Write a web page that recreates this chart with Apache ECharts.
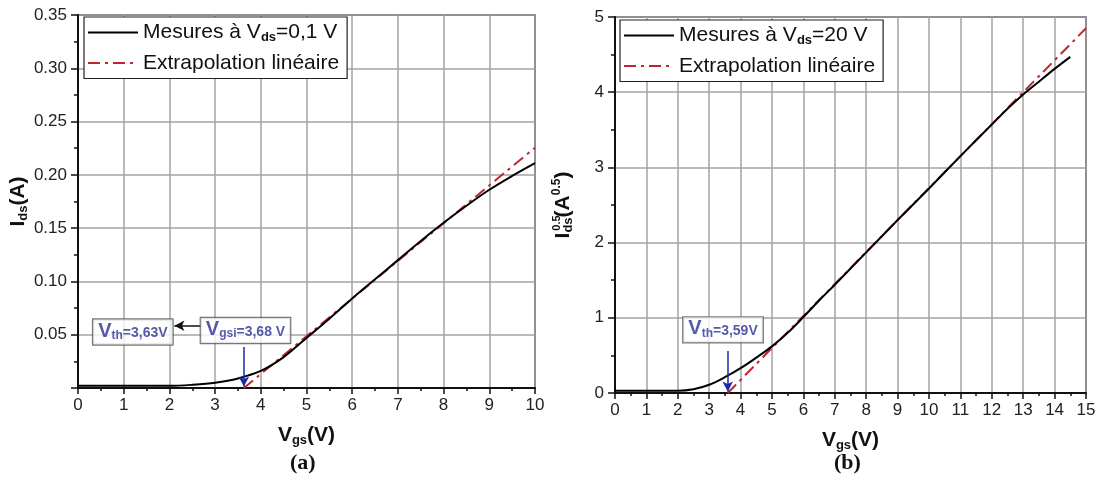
<!DOCTYPE html>
<html><head><meta charset="utf-8">
<script src="https://cdn.jsdelivr.net/npm/echarts@6/dist/echarts.min.js"></script>
<style>html,body{margin:0;padding:0;background:#fff}#c{width:1099px;height:491px}</style>
</head><body><div id="c"></div>
<script>
// ---- (a) Ids vs Vgs at Vds = 0.1 V ----
const vgsA = [0, 1, 2, 2.5, 3, 3.5, 4, 4.5, 5, 5.5, 6, 6.5, 7, 7.5, 8, 8.5, 9, 9.5, 10];
const idsA = [0.002, 0.002, 0.002, 0.003, 0.005, 0.009, 0.016, 0.029, 0.047, 0.065, 0.084, 0.102, 0.120, 0.138, 0.155, 0.171, 0.186, 0.199, 0.211];
const fitAx = [3.63, 10];
const fitAy = [0, 0.2255];
// ---- (b) sqrt(Ids) vs Vgs at Vds = 20 V ----
const vgsB = [0, 1, 2, 2.5, 3, 3.5, 4, 4.5, 5, 5.5, 6, 6.5, 7, 8, 9, 10, 11, 12, 12.5, 13, 13.5, 14, 14.5];
const sqrtIdsB = [0.03, 0.03, 0.03, 0.05, 0.11, 0.21, 0.33, 0.47, 0.62, 0.80, 1.01, 1.23, 1.44, 1.87, 2.30, 2.72, 3.15, 3.57, 3.78, 3.97, 4.14, 4.31, 4.47];
const fitBx = [3.59, 15];
const fitBy = [0, 4.85];
// annotations (data coordinates)
const vthA = 3.63, vgsiA = 3.68, vthB = 3.59;
const boxA1 = [1.2, 0.0525], boxA2 = [3.665, 0.054], boxB = [3.44, 0.84];

const zip = (a, b) => a.map((v, i) => [v, b[i]]);
const BLUE = '#2b3192', RED = '#c0262d';
const NARROW = "'Liberation Sans Narrow','Liberation Sans',Arial,sans-serif";
const SANS = "'Liberation Sans',Arial,sans-serif";
const names = {
  mesA: 'Mesures à V{s|ds}=0,1 V',
  mesB: 'Mesures à V{s|ds}=20 V',
  fitA: 'Extrapolation linéaire',
  fitB: 'Extrapolation linéaire'
};
const legendRich = { s: { fontSize: 13, fontWeight: 'bold', fontFamily: SANS, color: '#111', padding: [9, 0, 0, 0] } };
const boxRich = {
  v: { fontSize: 20, fontWeight: 'bold', color: BLUE, fontFamily: NARROW },
  s: { fontSize: 12, fontWeight: 'bold', color: BLUE, fontFamily: NARROW, padding: [9, 0, 0, 0] },
  t: { fontSize: 14, fontWeight: 'bold', color: BLUE, fontFamily: NARROW, padding: [5, 0, 0, 0] }
};
const axisNameRich = {
  i: { fontSize: 21, fontWeight: 'bold', color: '#111', fontFamily: SANS },
  s: { fontSize: 13, fontWeight: 'bold', color: '#111', fontFamily: SANS, padding: [10, 0, 0, 0] },
  p: { fontSize: 12, fontWeight: 'bold', color: '#111', fontFamily: SANS, padding: [0, 0, 12, 0] }
};
function xAx(gi, max) {
  return {
    type: 'value', gridIndex: gi, min: 0, max: max, interval: 1,
    axisLine: { lineStyle: { color: '#111', width: 2 } },
    axisTick: { length: 6, lineStyle: { color: '#111', width: 1.5 } },
    minorTick: { show: true, splitNumber: 2, length: 3, lineStyle: { color: '#111', width: 1.5 } },
    splitLine: { show: true, lineStyle: { color: '#a3a3a3', width: 1.5 } },
    axisLabel: { fontSize: 17, color: '#222', fontFamily: SANS, margin: 9 },
    name: '{i|V}{s|gs}{i|(V)}', nameLocation: 'middle', nameGap: 36,
    nameTextStyle: { rich: axisNameRich }
  };
}
function yAx(gi, max, iv, fmt, name, gap) {
  return {
    type: 'value', gridIndex: gi, min: 0, max: max, interval: iv,
    axisLine: { lineStyle: { color: '#111', width: 2 } },
    axisTick: { length: 7, lineStyle: { color: '#111', width: 1.5 } },
    minorTick: { show: true, splitNumber: 2, length: 4, lineStyle: { color: '#111', width: 1.5 } },
    splitLine: { show: true, lineStyle: { color: '#a3a3a3', width: 1.5 } },
    axisLabel: { fontSize: 17, color: '#222', fontFamily: SANS, margin: 11, formatter: fmt },
    name: name, nameLocation: 'middle', nameRotate: 90, nameGap: gap,
    nameTextStyle: { rich: axisNameRich }
  };
}
function lineSeries(name, xi, data, color, type) {
  return {
    name: name, type: 'line', xAxisIndex: xi, yAxisIndex: xi, data: data,
    showSymbol: false, symbol: 'none', smooth: 0.35, silent: true, z: type ? 3 : 4,
    lineStyle: { color: color, width: 2, type: type || 'solid' }, itemStyle: { color: color }
  };
}
function boxLabel(text) {
  return {
    show: true, position: 'inside', formatter: text, rich: boxRich,
    backgroundColor: '#fff', borderColor: '#555', borderWidth: 1.2, padding: [1, 5, 3, 5]
  };
}
const arrow = (p1, p2, color) => [{ coord: p1, lineStyle: { color: color } }, { coord: p2 }];
function legendCfg(data, left, top) {
  return {
    data: data, left: left, top: top, orient: 'vertical', itemWidth: 50, itemHeight: 14, itemGap: 9,
    padding: [5, 8, 5, 3], borderColor: '#222', borderWidth: 1.2, backgroundColor: '#fff',
    itemStyle: { opacity: 0, borderWidth: 0 },
    formatter: n => names[n], textStyle: { fontSize: 21, color: '#111', fontFamily: SANS, rich: legendRich },
    selectedMode: false
  };
}

const chart = echarts.init(document.getElementById('c'), null, { renderer: 'canvas' });
chart.setOption({
  animation: false,
  backgroundColor: '#fff',
  grid: [
    { left: 78, top: 15, width: 457, height: 373, show: true, borderColor: '#222', borderWidth: 1.5, backgroundColor: 'transparent' },
    { left: 615, top: 17, width: 471, height: 376, show: true, borderColor: '#222', borderWidth: 1.5, backgroundColor: 'transparent' }
  ],
  xAxis: [xAx(0, 10), xAx(1, 15)],
  yAxis: [
    yAx(0, 0.35, 0.05, v => v === 0 ? '' : v.toFixed(2), '{i|I}{s|ds}{i|(A)}', 46),
    yAx(1, 5, 1, v => String(v), '{i|I}{s|ds}{i|(A}{p|0.5}{i|)}', 40)
  ],
  legend: [legendCfg(['mesA', 'fitA'], 84, 17), legendCfg(['mesB', 'fitB'], 620, 20)],
  series: [
    lineSeries('fitA', 0, zip(fitAx, fitAy), RED, [12, 5, 3, 5]),
    lineSeries('mesA', 0, zip(vgsA, idsA), '#000'),
    lineSeries('fitB', 1, zip(fitBx, fitBy), RED, [12, 5, 3, 5]),
    lineSeries('mesB', 1, zip(vgsB, sqrtIdsB), '#000'),
    {
      name: 'annA', type: 'scatter', xAxisIndex: 0, yAxisIndex: 0, symbolSize: 0, silent: true, z: 10,
      data: [
        { value: boxA1, label: boxLabel('{v|V}{s|th}{t|=' + String(vthA).replace('.', ',') + 'V}') },
        { value: boxA2, label: boxLabel('{v|V}{s|gsi}{t|=' + String(vgsiA).replace('.', ',') + ' V}') }
      ],
      markLine: {
        silent: true, symbol: ['none', 'arrow'], symbolSize: [8, 10], label: { show: false },
        lineStyle: { width: 1.5, type: 'solid' },
        data: [
          arrow([2.69, 0.0584], [2.11, 0.0584], '#111'),
          arrow([vthA, 0.0385], [vthA, 0.0015], '#1a2aa8')
        ]
      }
    },
    {
      name: 'annB', type: 'scatter', xAxisIndex: 1, yAxisIndex: 1, symbolSize: 0, silent: true, z: 10,
      data: [
        { value: boxB, label: boxLabel('{v|V}{s|th}{t|=' + String(vthB).replace('.', ',') + 'V}') }
      ],
      markLine: {
        silent: true, symbol: ['none', 'arrow'], symbolSize: [8, 10], label: { show: false },
        lineStyle: { width: 1.5, type: 'solid' },
        data: [arrow([vthB, 0.56], [vthB, 0.02], '#1a2aa8')]
      }
    }
  ],
  graphic: [
    { type: 'text', left: 306 - 16, top: 452, style: { text: '(a)', font: "bold 22px 'Liberation Serif', serif", fill: '#111' } },
    { type: 'text', left: 850 - 16, top: 452, style: { text: '(b)', font: "bold 22px 'Liberation Serif', serif", fill: '#111' } },
    { type: 'text', x: 557, y: 223, rotation: Math.PI / 2,
      style: { text: '0.5', font: "bold 11px 'Liberation Sans', Arial, sans-serif", fill: '#111', align: 'center', verticalAlign: 'middle' } }
  ]
});
</script>
</body></html>
